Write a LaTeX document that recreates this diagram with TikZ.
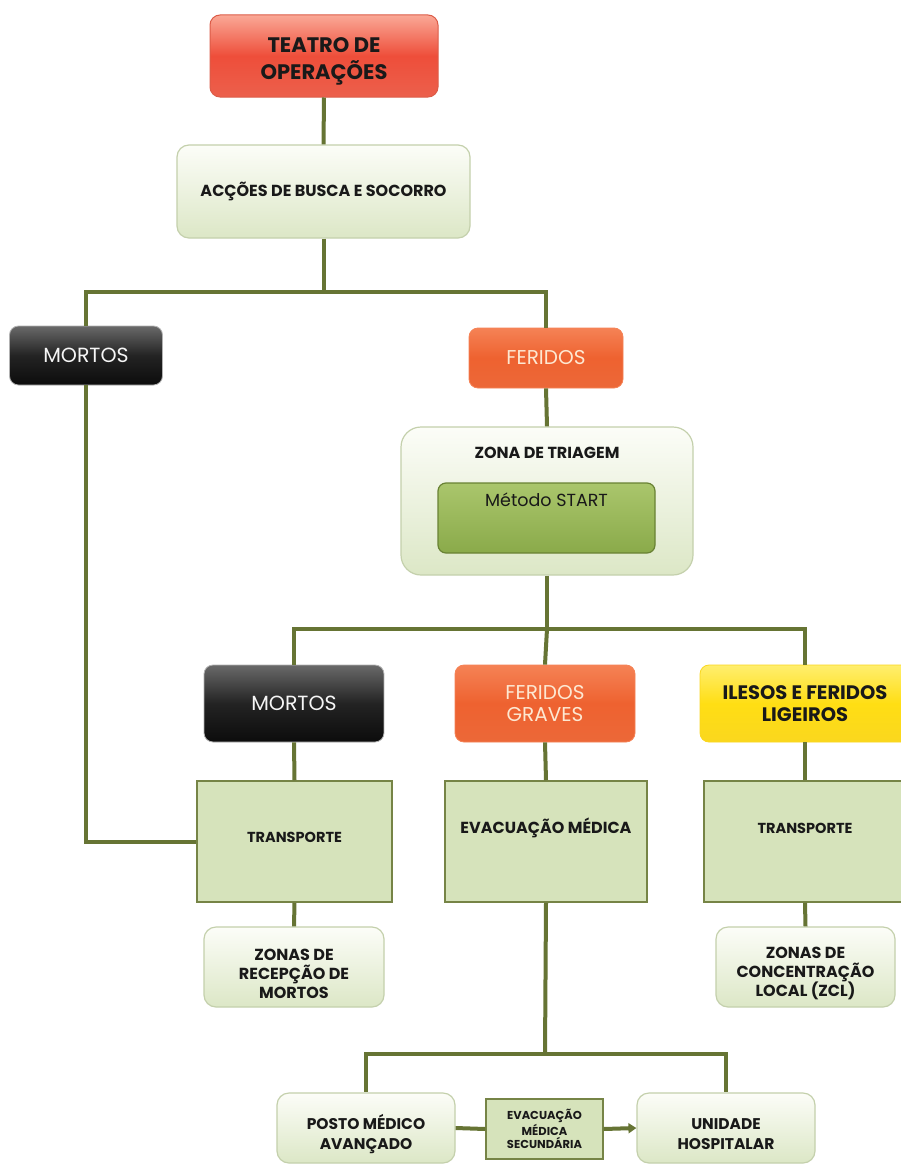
\documentclass[tikz,border=0pt]{standalone}
\usepackage{fontspec}
\setmainfont{Poppins}
\usetikzlibrary{calc,arrows.meta}
\definecolor{lineol}{RGB}{102,116,52}
\definecolor{txtdark}{RGB}{25,25,25}
\definecolor{lgtop}{RGB}{252,253,248}
\definecolor{lgbot}{RGB}{220,231,198}
\definecolor{lgdraw}{RGB}{196,208,172}
\definecolor{boxfill}{RGB}{214,227,187}
\definecolor{boxdraw}{RGB}{118,132,70}
\definecolor{redtop}{RGB}{250,168,150}
\definecolor{redmid}{RGB}{238,78,58}
\definecolor{redbot}{RGB}{236,96,76}
\definecolor{reddraw}{RGB}{220,92,72}
\definecolor{blktop}{RGB}{105,105,105}
\definecolor{blkmid}{RGB}{35,35,35}
\definecolor{blkbot}{RGB}{12,12,12}
\definecolor{ortop}{RGB}{245,130,85}
\definecolor{ormid}{RGB}{238,98,48}
\definecolor{orbot}{RGB}{236,104,56}
\definecolor{yetop}{RGB}{255,238,110}
\definecolor{yemid}{RGB}{255,222,20}
\definecolor{yebot}{RGB}{250,215,30}
\definecolor{sttop}{RGB}{170,198,108}
\definecolor{stbot}{RGB}{138,170,74}
\definecolor{stdraw}{RGB}{105,130,52}
\definecolor{ortext}{RGB}{253,232,210}
\begin{document}
\begin{tikzpicture}[x=1pt,y=-1pt,
  base/.style={align=center, inner sep=0pt, text=txtdark},
  txt/.style={anchor=center, align=center, inner sep=0pt, text=txtdark},
  lgbox/.style={base, rounded corners=12pt, draw=lgdraw, line width=1.2pt,
    top color=lgtop, bottom color=lgbot, font=\bfseries\fontsize{16}{19}\selectfont},
  grbox/.style={base, draw=boxdraw, line width=1.5pt, fill=boxfill,
    font=\bfseries\fontsize{14.5}{17}\selectfont},
  redbox/.style={base, rounded corners=10pt, draw=reddraw, line width=1pt,
    top color=redtop, bottom color=redbot, middle color=redmid},
  blkbox/.style={base, rounded corners=9pt, draw=gray!60, line width=0.8pt,
    top color=blktop, bottom color=blkbot, middle color=blkmid,
    text=white!92!gray, font=\fontsize{20.5}{22}\selectfont},
  orbox/.style={base, rounded corners=9pt, draw=ortop, line width=0.8pt,
    top color=ortop, bottom color=orbot, middle color=ormid,
    text=ortext, font=\fontsize{20}{22}\selectfont},
  yebox/.style={base, rounded corners=9pt, draw=yebot, line width=0.8pt,
    top color=yetop, bottom color=yebot, middle color=yemid,
    font=\bfseries\fontsize{19.5}{22}\selectfont},
  stbox/.style={base, rounded corners=8pt, draw=stdraw, line width=1.2pt,
    top color=sttop, bottom color=stbot},
  conn/.style={draw=lineol, line width=4pt},
  arrconn/.style={conn, -{Triangle[length=8pt,width=10pt]}}
]
\useasboundingbox[fill=white] (0,0) rectangle (901,1164);

% top
\node[redbox, minimum width=228pt, minimum height=82pt,
  label={[txt, yshift=-5pt, font=\bfseries\fontsize{21}{27}\selectfont]center:{TEATRO DE\\OPERAÇÕES}}] (teatro) at (324,56) {};
\node[lgbox, minimum width=293pt, minimum height=93pt] (acc) at (323.5,191.5) {ACÇÕES DE BUSCA E SOCORRO};
\coordinate (b1) at (323.5,292);

\node[blkbox, minimum width=153pt, minimum height=59pt] (m1) at (86,355.5) {MORTOS};
\node[orbox, minimum width=154pt, minimum height=60pt] (fer) at (546,358) {FERIDOS};

% triage
\node[lgbox, rounded corners=20pt, minimum width=292pt, minimum height=148pt,
  label={[anchor=center, yshift=-26pt, text=txtdark, font=\bfseries\fontsize{16}{18}\selectfont]north:ZONA DE TRIAGEM}] (zona) at (547,501) {};
\node[stbox, minimum width=217pt, minimum height=70pt,
  label={[anchor=center, yshift=-17pt, text=txtdark, font=\fontsize{17.5}{19}\selectfont]north:Método START}] (start) at (546.5,518) {};
\coordinate (b2) at (547,629);

% second level
\node[blkbox, minimum width=180pt, minimum height=77pt] (m2) at (294,703.5) {MORTOS};
\node[orbox, minimum width=180pt, minimum height=77pt] (fg) at (545,703.5) {FERIDOS\\GRAVES};
\node[yebox, minimum width=210pt, minimum height=77pt] (il) at (805,703.5) {ILESOS E FERIDOS\\LIGEIROS};

% third level
\node[grbox, minimum width=195pt, minimum height=121pt] (t1) at (294.5,841.5) {\raisebox{8pt}{TRANSPORTE}};
\node[grbox, minimum width=202pt, minimum height=121pt, font=\bfseries\fontsize{16}{18}\selectfont] (ev) at (546,841.5) {\raisebox{32pt}{EVACUAÇÃO MÉDICA}};
\node[grbox, minimum width=202pt, minimum height=121pt] (t3) at (805,841.5) {\raisebox{27pt}{TRANSPORTE}};

% fourth level
\node[lgbox, minimum width=180pt, minimum height=80pt,
  label={[txt, yshift=-7pt, font=\bfseries\fontsize{16}{19}\selectfont]center:{ZONAS DE\\RECEPÇÃO DE\\MORTOS}}] (zr) at (294,967) {};
\node[lgbox, minimum width=179pt, minimum height=80pt,
  label={[txt, yshift=-6pt, font=\bfseries\fontsize{16}{19}\selectfont]center:{ZONAS DE\\CONCENTRAÇÃO\\LOCAL (ZCL)}}] (zc) at (805.5,967) {};

% bottom
\coordinate (b3) at (545,1054);
\node[lgbox, minimum width=178pt, minimum height=70pt,
  label={[txt, yshift=-6.5pt, font=\bfseries\fontsize{15.5}{20}\selectfont]center:{POSTO MÉDICO\\AVANÇADO}}] (pm) at (366,1128) {};
\node[grbox, minimum width=117pt, minimum height=60pt, line width=1.3pt,
  font=\bfseries\fontsize{11.5}{13.5}\selectfont] (sm) at (544.5,1129) {EVACUAÇÃO\\MÉDICA\\SECUNDÁRIA};
\node[lgbox, minimum width=178pt, minimum height=70pt,
  label={[txt, yshift=-6.5pt, font=\bfseries\fontsize{15.5}{20}\selectfont]center:{UNIDADE\\HOSPITALAR}}] (uh) at (726,1128) {};

% connectors
\path[conn] (teatro.south) -- (acc.north);
\path[conn] (acc.south) -- (b1);
\path[conn] (b1) -| (m1.north);
\path[conn] (b1) -| (fer.north);
\path[conn] (m1.south) |- (t1.west);
\path[conn] (fer.south) -- (zona.north);
\path[conn] (zona.south) -- (b2);
\path[conn] (b2) -| (m2.north);
\path[conn] (b2) -- (fg.north);
\path[conn] (b2) -| (il.north);
\path[conn] (m2.south) -- (t1.north);
\path[conn] (fg.south) -- (ev.north);
\path[conn] (il.south) -- (t3.north);
\path[conn] (t1.south) -- (zr.north);
\path[conn] (t3.south) -- (zc.north);
\path[conn] (ev.south) -- (b3);
\path[conn] (b3) -| (pm.north);
\path[conn] (b3) -| (uh.north);
\path[conn] (pm.east) -- (sm.west);
\path[arrconn] (sm.east) -- (uh.west);
\end{tikzpicture}
\end{document}
